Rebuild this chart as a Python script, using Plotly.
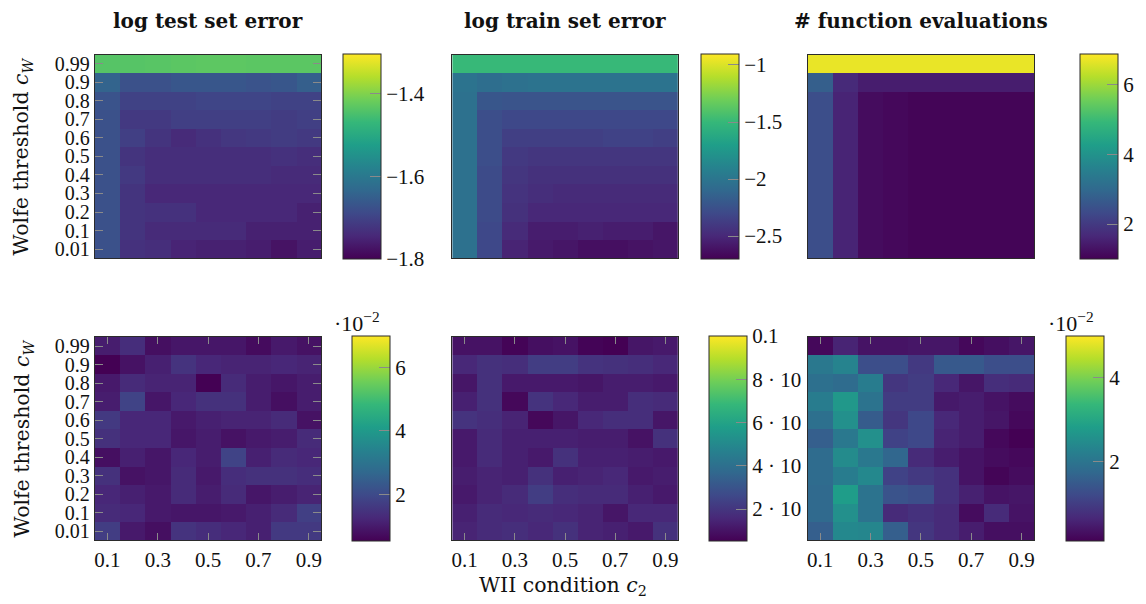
import plotly.graph_objects as go

W, H = 1146, 604

# ---------------- data ----------------
c2_labels = ["0.1", "0.2", "0.3", "0.4", "0.5", "0.6", "0.7", "0.8", "0.9"]
cw_labels = ["0.01", "0.1", "0.2", "0.3", "0.4", "0.5", "0.6", "0.7", "0.8", "0.9", "0.99"]
c2_tick_labels = ["0.1", "0.3", "0.5", "0.7", "0.9"]

# rows ordered by Wolfe threshold c_W ascending (0.01 ... 0.99), columns by c2
log_test_err = [
    [-1.676, -1.730, -1.735, -1.750, -1.755, -1.755, -1.760, -1.775, -1.760],
    [-1.676, -1.725, -1.740, -1.740, -1.740, -1.740, -1.755, -1.755, -1.755],
    [-1.676, -1.725, -1.730, -1.730, -1.745, -1.745, -1.745, -1.745, -1.755],
    [-1.676, -1.725, -1.745, -1.745, -1.745, -1.745, -1.745, -1.745, -1.745],
    [-1.676, -1.716, -1.735, -1.735, -1.735, -1.735, -1.735, -1.740, -1.740],
    [-1.676, -1.725, -1.735, -1.735, -1.735, -1.735, -1.735, -1.730, -1.735],
    [-1.676, -1.706, -1.725, -1.740, -1.730, -1.720, -1.716, -1.711, -1.716],
    [-1.676, -1.716, -1.716, -1.706, -1.706, -1.706, -1.706, -1.711, -1.706],
    [-1.671, -1.701, -1.701, -1.701, -1.696, -1.696, -1.696, -1.701, -1.701],
    [-1.641, -1.676, -1.676, -1.666, -1.666, -1.666, -1.671, -1.666, -1.651],
    [-1.437, -1.437, -1.435, -1.432, -1.430, -1.430, -1.432, -1.432, -1.432],
]
log_train_err = [
    [-2.035, -2.305, -2.520, -2.574, -2.592, -2.628, -2.628, -2.610, -2.592],
    [-2.035, -2.305, -2.484, -2.556, -2.556, -2.538, -2.556, -2.556, -2.592],
    [-2.035, -2.287, -2.449, -2.502, -2.502, -2.502, -2.502, -2.502, -2.502],
    [-2.035, -2.287, -2.431, -2.467, -2.484, -2.484, -2.484, -2.484, -2.484],
    [-2.035, -2.287, -2.413, -2.449, -2.449, -2.449, -2.449, -2.449, -2.449],
    [-2.035, -2.269, -2.395, -2.413, -2.413, -2.413, -2.413, -2.413, -2.413],
    [-2.035, -2.269, -2.359, -2.359, -2.359, -2.359, -2.341, -2.341, -2.359],
    [-2.035, -2.269, -2.305, -2.305, -2.305, -2.305, -2.305, -2.305, -2.305],
    [-2.035, -2.215, -2.233, -2.233, -2.233, -2.233, -2.233, -2.233, -2.233],
    [-2.018, -2.053, -2.035, -2.018, -2.018, -2.018, -2.018, -2.018, -2.018],
    [-1.497, -1.497, -1.497, -1.497, -1.497, -1.497, -1.497, -1.497, -1.497],
]
func_evals = [
    [2.41, 1.59, 1.18, 1.12, 1.06, 1.06, 1.06, 1.06, 1.06],
    [2.41, 1.59, 1.18, 1.12, 1.06, 1.06, 1.06, 1.06, 1.06],
    [2.41, 1.59, 1.18, 1.12, 1.06, 1.06, 1.06, 1.06, 1.06],
    [2.41, 1.59, 1.18, 1.12, 1.06, 1.06, 1.06, 1.06, 1.06],
    [2.41, 1.59, 1.18, 1.12, 1.06, 1.06, 1.06, 1.06, 1.06],
    [2.41, 1.59, 1.18, 1.12, 1.06, 1.06, 1.06, 1.06, 1.06],
    [2.41, 1.59, 1.18, 1.12, 1.06, 1.06, 1.06, 1.06, 1.06],
    [2.41, 1.59, 1.18, 1.12, 1.06, 1.06, 1.06, 1.06, 1.06],
    [2.41, 1.59, 1.18, 1.12, 1.06, 1.06, 1.06, 1.06, 1.06],
    [2.76, 1.70, 1.47, 1.47, 1.47, 1.47, 1.47, 1.47, 1.47],
    [6.69, 6.69, 6.69, 6.69, 6.69, 6.69, 6.69, 6.69, 6.69],
]
test_err_sd = [
    [0.0169, 0.0097, 0.0078, 0.0149, 0.0136, 0.0123, 0.0110, 0.0162, 0.0162],
    [0.0130, 0.0123, 0.0097, 0.0091, 0.0091, 0.0097, 0.0110, 0.0130, 0.0175],
    [0.0123, 0.0110, 0.0097, 0.0130, 0.0104, 0.0130, 0.0091, 0.0104, 0.0117],
    [0.0143, 0.0084, 0.0091, 0.0130, 0.0097, 0.0136, 0.0143, 0.0143, 0.0136],
    [0.0078, 0.0110, 0.0091, 0.0123, 0.0104, 0.0182, 0.0110, 0.0130, 0.0123],
    [0.0143, 0.0123, 0.0123, 0.0091, 0.0104, 0.0084, 0.0097, 0.0104, 0.0130],
    [0.0162, 0.0123, 0.0123, 0.0097, 0.0110, 0.0117, 0.0117, 0.0130, 0.0084],
    [0.0104, 0.0182, 0.0091, 0.0123, 0.0143, 0.0143, 0.0104, 0.0078, 0.0104],
    [0.0097, 0.0130, 0.0117, 0.0117, 0.0052, 0.0130, 0.0104, 0.0091, 0.0104],
    [0.0052, 0.0084, 0.0110, 0.0149, 0.0123, 0.0117, 0.0117, 0.0123, 0.0117],
    [0.0104, 0.0136, 0.0078, 0.0091, 0.0091, 0.0091, 0.0071, 0.0097, 0.0084],
]
train_err_sd = [
    [0.0147, 0.0166, 0.0175, 0.0156, 0.0185, 0.0147, 0.0137, 0.0118, 0.0185],
    [0.0137, 0.0166, 0.0156, 0.0166, 0.0156, 0.0147, 0.0109, 0.0156, 0.0156],
    [0.0118, 0.0147, 0.0166, 0.0223, 0.0175, 0.0166, 0.0166, 0.0137, 0.0118],
    [0.0128, 0.0147, 0.0137, 0.0185, 0.0137, 0.0147, 0.0156, 0.0118, 0.0128],
    [0.0118, 0.0166, 0.0137, 0.0118, 0.0185, 0.0137, 0.0137, 0.0128, 0.0118],
    [0.0118, 0.0166, 0.0137, 0.0137, 0.0137, 0.0128, 0.0128, 0.0099, 0.0185],
    [0.0194, 0.0175, 0.0147, 0.0071, 0.0109, 0.0156, 0.0175, 0.0175, 0.0109],
    [0.0137, 0.0185, 0.0071, 0.0194, 0.0156, 0.0128, 0.0128, 0.0175, 0.0166],
    [0.0109, 0.0185, 0.0118, 0.0118, 0.0118, 0.0109, 0.0128, 0.0128, 0.0118],
    [0.0156, 0.0185, 0.0175, 0.0223, 0.0223, 0.0194, 0.0185, 0.0175, 0.0156],
    [0.0099, 0.0099, 0.0061, 0.0090, 0.0099, 0.0061, 0.0052, 0.0109, 0.0118],
]
func_evals_sd = [
    [0.0157, 0.0240, 0.0235, 0.0157, 0.0088, 0.0069, 0.0049, 0.0030, 0.0030],
    [0.0177, 0.0255, 0.0196, 0.0069, 0.0079, 0.0069, 0.0025, 0.0069, 0.0035],
    [0.0177, 0.0280, 0.0196, 0.0137, 0.0128, 0.0079, 0.0054, 0.0035, 0.0039],
    [0.0182, 0.0216, 0.0240, 0.0108, 0.0093, 0.0079, 0.0035, 0.0015, 0.0025],
    [0.0182, 0.0245, 0.0206, 0.0172, 0.0069, 0.0049, 0.0035, 0.0025, 0.0020],
    [0.0157, 0.0206, 0.0255, 0.0108, 0.0118, 0.0059, 0.0049, 0.0020, 0.0010],
    [0.0191, 0.0255, 0.0152, 0.0088, 0.0118, 0.0064, 0.0049, 0.0039, 0.0020],
    [0.0216, 0.0270, 0.0196, 0.0098, 0.0098, 0.0044, 0.0049, 0.0035, 0.0025],
    [0.0191, 0.0182, 0.0216, 0.0088, 0.0098, 0.0064, 0.0039, 0.0074, 0.0069],
    [0.0206, 0.0230, 0.0128, 0.0128, 0.0093, 0.0147, 0.0147, 0.0128, 0.0128],
    [0.0020, 0.0059, 0.0035, 0.0035, 0.0039, 0.0039, 0.0020, 0.0030, 0.0039],
]

panel_z = [log_test_err, log_train_err, func_evals, test_err_sd, train_err_sd, func_evals_sd]
panel_zmin = [-1.80, -2.70, 1.00, 0.0052, 0.0052, 0.0010]
panel_zmax = [-1.303, -0.904, 6.87, 0.070, 0.100, 0.050]
cb_tickvals = [
    [-1.8, -1.6, -1.4],
    [-2.5, -2.0, -1.5, -1.0],
    [2, 4, 6],
    [0.02, 0.04, 0.06],
    [0.02, 0.04, 0.06, 0.08, 0.1],
    [0.02, 0.04],
]
cb_ticktext = [
    ["−1.8", "−1.6", "−1.4"],
    ["−2.5", "−2", "−1.5", "−1"],
    ["2", "4", "6"],
    ["2", "4", "6"],
    ["2 · 10", "4 · 10", "6 · 10", "8 · 10", "0.1"],
    ["2", "4"],
]
col_titles = ["log test set error", "log train set error", "# function evaluations"]

# ---------------- layout geometry (pixels) ----------------
hm_x = [(94, 321), (452, 678), (808, 1035)]
hm_y = [(53, 258), (337, 542)]
cb_left = [[343, 701, 1081], [352, 709, 1067]]
cb_w = 38

SERIF = "Liberation Serif, Times New Roman, serif"
TICK_FONT = dict(family=SERIF, size=21, color="#111")
YTICK_FONT = dict(family=SERIF, size=20, color="#111")
TICK_COLOR = "#8a8a8a"
FRAME = "#2b2b2b"

def px_x(v):
    return v / W

def px_y(v):
    return 1 - v / H

fig = go.Figure()
shapes = []
annotations = []

for i in range(6):
    r, c = divmod(i, 3)
    idx = "" if i == 0 else str(i + 1)
    zmin, zmax = panel_zmin[i], panel_zmax[i]
    y0, y1 = hm_y[r]
    cbx = cb_left[r][c]
    fig.add_trace(go.Heatmap(
        x=c2_labels, y=cw_labels, z=panel_z[i],
        zmin=zmin, zmax=zmax, colorscale="Viridis",
        xaxis="x" + idx, yaxis="y" + idx,
        colorbar=dict(
            x=px_x(cbx), xanchor="left", xpad=0, ypad=0,
            y=px_y((y0 + y1) / 2), yanchor="middle",
            len=y1 - y0, lenmode="pixels",
            thickness=cb_w, thicknessmode="pixels",
            outlinecolor=FRAME, outlinewidth=1,
            tickmode="array", tickvals=cb_tickvals[i], ticktext=cb_ticktext[i],
            ticks="inside", ticklen=11, tickcolor=TICK_COLOR, tickwidth=1,
            tickfont=TICK_FONT,
        ),
    ))
    # mirrored (left-side) colorbar tick marks
    for v in cb_tickvals[i]:
        if v >= zmax:
            continue
        yp = y1 - (v - zmin) / (zmax - zmin) * (y1 - y0)
        shapes.append(dict(type="line", xref="paper", yref="paper",
                           x0=px_x(cbx + 1), x1=px_x(cbx + 12), y0=px_y(yp), y1=px_y(yp),
                           line=dict(color=TICK_COLOR, width=1), layer="above"))

    show_y = (c == 0)
    show_x = (r == 1)
    xa = dict(
        domain=[px_x(hm_x[c][0]), px_x(hm_x[c][1])],
        anchor="y" + idx, type="category",
        categoryorder="array", categoryarray=c2_labels,
        showline=True, linecolor=FRAME, linewidth=1,
        showgrid=False, zeroline=False,
        tickfont=TICK_FONT,
    )
    if show_x:
        xa.update(tickmode="array", tickvals=c2_tick_labels, ticktext=c2_tick_labels,
                  ticks="inside", ticklen=7, tickcolor=TICK_COLOR, mirror="ticks",
                  showticklabels=True)
    else:
        xa.update(showticklabels=False, ticks="", mirror=True)
    ya = dict(
        domain=[px_y(y1), px_y(y0)],
        anchor="x" + idx, type="category",
        categoryorder="array", categoryarray=cw_labels,
        showline=True, linecolor=FRAME, linewidth=1,
        showgrid=False, zeroline=False,
        tickfont=YTICK_FONT,
    )
    if show_y:
        ya.update(tickmode="array", tickvals=cw_labels, ticktext=cw_labels,
                  ticks="inside", ticklen=8, tickcolor=TICK_COLOR, mirror="ticks",
                  showticklabels=True)
    else:
        ya.update(showticklabels=False, ticks="", mirror=True)
    fig.layout["xaxis" + idx] = xa
    fig.layout["yaxis" + idx] = ya

# column titles
for c in range(3):
    annotations.append(dict(
        text="<b>" + col_titles[c] + "</b>", xref="paper", yref="paper",
        x=px_x((hm_x[c][0] + hm_x[c][1]) / 2), y=px_y(19),
        xanchor="center", yanchor="middle", showarrow=False,
        font=dict(family="DejaVu Serif, serif", size=20, color="#111"),
    ))

# y-axis titles
for r in range(2):
    annotations.append(dict(
        text="Wolfe threshold <i>c<sub>W</sub></i>", xref="paper", yref="paper",
        x=px_x(22), y=px_y((hm_y[r][0] + hm_y[r][1]) / 2), textangle=-90,
        xanchor="center", yanchor="middle", showarrow=False,
        font=dict(family="DejaVu Serif, serif", size=20.5, color="#111"),
    ))

# x-axis title
annotations.append(dict(
    text="WII condition <i>c</i><sub>2</sub>", xref="paper", yref="paper",
    x=px_x(563), y=px_y(588), xanchor="center", yanchor="middle", showarrow=False,
    font=dict(family="DejaVu Serif, serif", size=20.5, color="#111"),
))

# colorbar multipliers
for cx in (357, 1072):
    annotations.append(dict(
        text="·10<sup>−2</sup>", xref="paper", yref="paper",
        x=px_x(cx), y=px_y(322), xanchor="center", yanchor="middle", showarrow=False,
        font=dict(family=SERIF, size=22, color="#111"),
    ))

fig.update_layout(
    width=W, height=H,
    margin=dict(l=0, r=0, t=0, b=0),
    paper_bgcolor="white", plot_bgcolor="white",
    showlegend=False,
    shapes=shapes, annotations=annotations,
)

fig.write_html("out.html",
               config={"displayModeBar": False},
               post_script="document.body.style.margin='0';document.body.style.overflow='hidden';")
